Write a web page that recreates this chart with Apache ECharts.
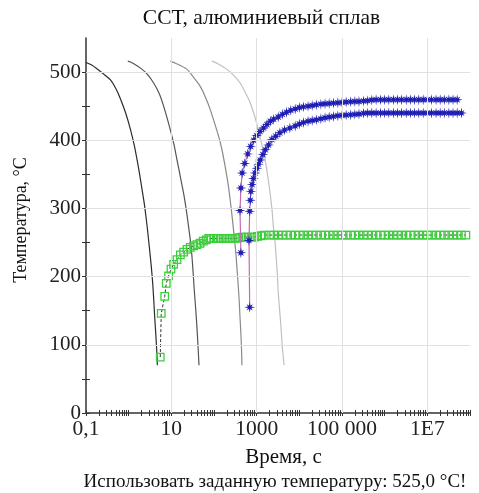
<!DOCTYPE html>
<html><head><meta charset="utf-8">
<script src="https://cdn.jsdelivr.net/npm/echarts@6/dist/echarts.min.js"></script>
<style>html,body{margin:0;padding:0;background:#fff}#c{width:479px;height:493px}</style>
</head><body><div id="c"></div>
<script>
const titleText = 'ССТ, алюминиевый сплав';
const xName = 'Время, с';
const yName = 'Температура, °С';
const noteText = 'Использовать заданную температуру: 525,0 °C!';
const xLabelValues = [0.1, 10, 1000, 100000, 10000000];
const xLabelTexts = ['0,1', '10', '1000', '100 000', '1E7'];
const xGridValues = [10, 1000, 100000, 10000000];
const yLabelValues = [0, 100, 200, 300, 400, 500];
const yGridValues = [100, 200, 300, 400, 500];
const yTickValues = [0, 50, 100, 150, 200, 250, 300, 350, 400, 450, 500];

// cooling curves [time s, temperature °C]
const cool1 = [[0.1,514],[0.13,511],[0.18,505],[0.26,497],[0.37,489],[0.5,476],[0.64,461],[0.85,440],[1.1,416],[1.35,393],[1.58,371],[1.82,349],[2.07,327],[2.35,305],[2.6,283],[2.85,261],[3.1,239],[3.4,214],[3.66,190],[3.88,165],[4.07,141],[4.28,120],[4.45,102],[4.6,85],[4.7,70]];
const cool2 = [[0.955,516],[1.26,513],[2.07,504],[2.82,496],[3.85,484],[5.25,468],[6.6,450],[9.5,415],[11.5,394],[13.6,371],[16.2,347],[19.4,322],[22.4,298],[25.4,273],[28.2,251],[30.5,229],[32.5,205],[34.5,180],[37.2,153],[39.8,126],[42.2,98],[44.5,70]];
const cool3 = [[9.5,516],[12.6,513],[23.3,504],[31.6,494],[47.6,479],[63,463],[81.7,445],[128,406],[155,385],[183,361],[214,336],[240,312],[269,285],[298,258],[324,236],[344,214],[367,190],[389,165],[407,140],[427,116],[442,93],[451,70]];
const cool4 = [[89.5,516],[126,512],[201,504],[282,496],[411,484],[562,468],[705,455],[891,436],[1100,415],[1318,394],[1581,371],[1820,347],[2070,322],[2290,298],[2470,273],[2690,251],[2880,227],[3050,204],[3180,180],[3430,153],[3715,126],[3980,98],[4400,70]];

// transformation curve (green squares)
const greenCurve = [[5.5,82],[5.8,146],[7.0,171],[7.6,190],[8.6,201],[9.8,211],[11.3,218],[13.6,225],[16.3,232],[19.4,236],[23.3,240],[27.8,243],[33.3,245],[39.8,247],[47,249],[56,252],[66,254],[75,256],[85,256],[100,256],[120,256],[140,256],[165,256],[195,256],[230,256],[270,256],[320,256],[380,257],[450,258],[530,258],[630,258],[750,258],[890,258],[1050,259],[1250,260],[1500,261],[2000,261],[2500,261],[3200,261],[4000,261],[5000,261],[6300,261],[8000,261],[10000,261],[12500,261],[16000,261],[20000,261],[25000,261],[32000,261],[40000,261],[50000,261],[63000,261],[80000,261],[1e5,261],[1.25e5,261],[1.6e5,261],[2e5,261],[2.5e5,261],[3.2e5,261],[4e5,261],[5e5,261],[6.3e5,261],[8e5,261],[1e6,261],[1.25e6,261],[1.6e6,261],[2e6,261],[2.5e6,261],[3.2e6,261],[4e6,261],[5e6,261],[6.3e6,261],[8e6,261],[1e7,261],[1.25e7,261],[1.6e7,261],[2e7,261],[2.5e7,261],[3.2e7,261],[4e7,261],[5e7,261],[6.3e7,261],[8e7,261]];

// upper blue star curve
const blueA = [[427,235],[407,297],[427,330],[457,352],[525,366],[617,380],[724,391],[851,400],[1000,407],[1200,413],[1450,418],[1740,423],[2090,428],[2500,431],[3200,434],[4000,438],[5000,441],[6300,444],[8000,446],[10000,448],[12500,449],[16000,450],[20000,451],[25000,452],[32000,453],[40000,453.5],[50000,454],[63000,454.5],[80000,455],[1e5,455.5],[1.25e5,456],[1.6e5,456.5],[2e5,457],[2.5e5,457],[3.2e5,457.5],[4e5,458],[5e5,459],[6.3e5,459.5],[8e5,459.5],[1e6,459.5],[1.25e6,459.5],[1.6e6,459.5],[2e6,459.5],[2.5e6,459.5],[3.2e6,459.5],[4e6,459.5],[5e6,459.5],[6.3e6,459.5],[8e6,459.5],[1e7,459.5],[1.25e7,459.5],[1.6e7,459.5],[2e7,459.5],[2.5e7,459.5],[3.2e7,459.5],[4e7,459.5],[5e7,459.5]];
// lower blue star curve
const blueB = [[686,155],[661,253],[686,296],[710,312],[731,325],[780,335],[841,344],[920,352],[1012,359],[1100,365],[1208,371],[1400,379],[1600,386],[1900,393],[2270,401],[2800,406],[3500,411],[4500,415],[6000,418],[8000,421],[10000,424],[12500,426],[16000,428],[20000,429],[25000,430],[32000,431.5],[40000,433],[50000,434],[63000,435],[80000,436],[1e5,436.5],[1.25e5,437],[1.6e5,437.5],[2e5,438],[2.5e5,438.5],[3.2e5,439.5],[4e5,440],[5e5,440],[6.3e5,440],[8e5,440],[1e6,440],[1.25e6,440],[1.6e6,440],[2e6,440],[2.5e6,440],[3.2e6,440],[4e6,440],[5e6,440],[6.3e6,440],[8e6,440],[1e7,440],[1.25e7,440],[1.6e7,440],[2e7,440],[2.5e7,440],[3.2e7,440],[4e7,440],[5e7,440],[6.3e7,440]];

// log minor tick positions (1..9 x 10^k)
const xTickValues = [];
for (let k = -1; k <= 7; k++) for (let m = 1; m <= 9; m++) xTickValues.push(Number((m * Math.pow(10, k)).toPrecision(3)));
xTickValues.push(1e8);

// asterisk symbol
function starPath() {
  const pts = [];
  for (let i = 0; i < 16; i++) {
    const a = i * Math.PI / 8;
    const outer = (i % 4 === 0) ? 10 : 8;
    const r = (i % 2 === 0) ? outer : 3.4;
    pts.push((10 + r * Math.sin(a)).toFixed(2) + ',' + (10 - r * Math.cos(a)).toFixed(2));
  }
  return 'path://M' + pts.join('L') + 'Z';
}
const STAR = starPath();

const FONT = 'Liberation Serif';
const axisColor = '#333';
const gridColor = '#e0e0e0';
const chart = echarts.init(document.getElementById('c'), null, {renderer: 'canvas'});

const labelMap = {};
xLabelValues.forEach((v, i) => { labelMap[Math.round(Math.log10(v))] = xLabelTexts[i]; });

const coolColors = ['#2b2b2b', '#555555', '#8a8a8a', '#c0c0c0'];
const coolData = [cool1, cool2, cool3, cool4];

const series = [{
  type: 'line', data: [], xAxisIndex: 0, yAxisIndex: 0, symbol: 'none', z: 1, silent: true,
  markLine: {
    silent: true, symbol: ['none', 'none'], label: {show: false}, animation: false,
    lineStyle: {color: gridColor, width: 1, type: 'solid'},
    emphasis: {disabled: true},
    data: xGridValues.map(v => ({xAxis: v})).concat(yGridValues.map(v => ({yAxis: v})))
  }
}];
coolData.forEach((d, i) => series.push({
  type: 'line', data: d, symbol: 'none', smooth: 0.3, xAxisIndex: 0, yAxisIndex: 0,
  lineStyle: {color: coolColors[i], width: 1.2}, z: 2
}));
series.push({
  type: 'line', data: greenCurve, xAxisIndex: 0, yAxisIndex: 0, symbol: 'rect', symbolSize: 7.5, showAllSymbol: true,
  itemStyle: {color: 'rgba(255,255,255,0)', borderColor: '#3bcf3b', borderWidth: 1.3},
  lineStyle: {color: '#333', width: 1, type: [3, 2]}, z: 3
});
[blueA, blueB].forEach(d => series.push({
  type: 'line', data: d, xAxisIndex: 0, yAxisIndex: 0, symbol: STAR, symbolSize: 11, showAllSymbol: true,
  itemStyle: {color: '#1e1eb4'}, lineStyle: {color: '#c46ab4', width: 1.2}, z: 4
}));

const xBase = {type: 'log', logBase: 10, min: 0.1, max: 1e8, gridIndex: 0, position: 'bottom', splitLine: {show: false}};
const yBase = {type: 'value', min: 0, max: 550, interval: 100, gridIndex: 0, position: 'left', splitLine: {show: false}};

chart.setOption({
  animation: false,
  grid: {left: 86, right: 9, top: 38, bottom: 80, containLabel: false},
  xAxis: [
    Object.assign({}, xBase, {
      axisLine: {show: true, lineStyle: {color: axisColor, width: 1.5}},
      axisTick: {show: false},
      axisLabel: {customValues: xLabelValues, formatter: v => labelMap[Math.round(Math.log10(v))] || '',
        fontFamily: FONT, fontSize: 21.5, color: '#222', margin: 5}
    }),
    Object.assign({}, xBase, {
      axisLine: {show: false}, axisLabel: {show: false},
      axisTick: {show: true, customValues: xTickValues, inside: true, length: 3, lineStyle: {color: axisColor, width: 1}}
    }),
    Object.assign({}, xBase, {
      axisLine: {show: false}, axisLabel: {show: false},
      axisTick: {show: true, customValues: xTickValues, inside: false, length: 3, lineStyle: {color: axisColor, width: 1}}
    })
  ],
  yAxis: [
    Object.assign({}, yBase, {
      axisLine: {show: true, lineStyle: {color: axisColor, width: 1.5}},
      axisTick: {show: true, customValues: yTickValues, inside: false, length: 4, lineStyle: {color: axisColor, width: 1}},
      axisLabel: {customValues: yLabelValues, fontFamily: FONT, fontSize: 21, color: '#222', margin: 5}
    }),
    Object.assign({}, yBase, {
      axisLine: {show: false}, axisLabel: {show: false},
      axisTick: {show: true, customValues: yTickValues, inside: true, length: 4, lineStyle: {color: axisColor, width: 1}}
    })
  ],
  series: series,
  graphic: [
    {type: 'text', x: 261.5, y: 18, style: {text: titleText, font: '21.5px "' + FONT + '"', fill: '#111', align: 'center', verticalAlign: 'middle'}},
    {type: 'text', x: 283.5, y: 457, style: {text: xName, font: '21px "' + FONT + '"', fill: '#111', align: 'center', verticalAlign: 'middle'}},
    {type: 'text', x: 21, y: 220, rotation: Math.PI / 2, style: {text: yName, font: '18px "' + FONT + '"', fill: '#111', align: 'center', verticalAlign: 'middle'}},
    {type: 'text', x: 275, y: 482, style: {text: noteText, font: '19px "' + FONT + '"', fill: '#111', align: 'center', verticalAlign: 'middle'}}
  ]
});
</script></body></html>
